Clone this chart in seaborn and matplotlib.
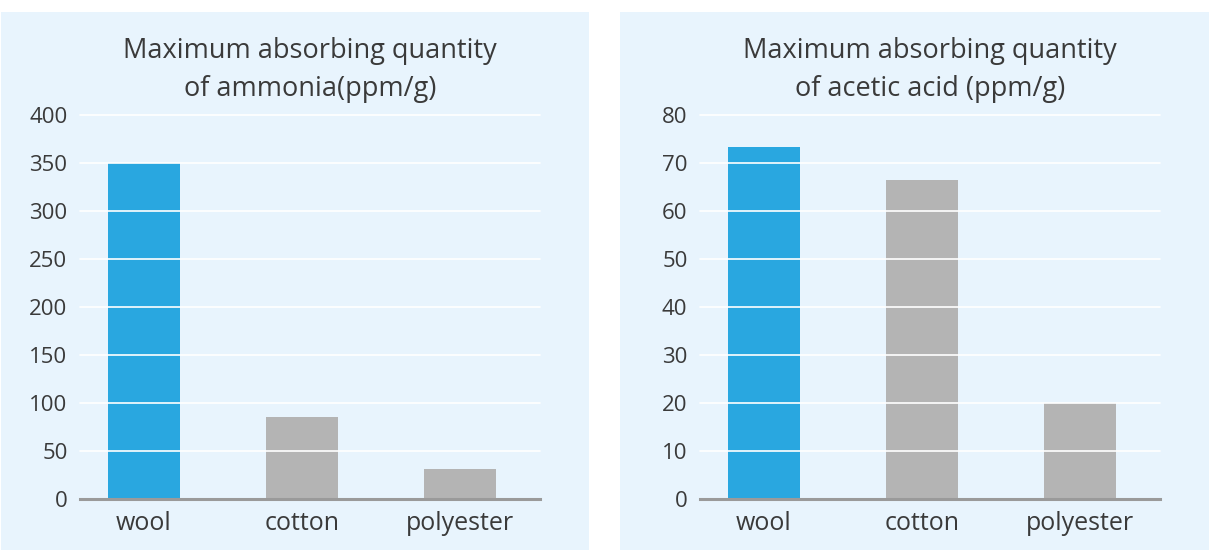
import matplotlib
matplotlib.use("Agg")
import matplotlib.pyplot as plt
from matplotlib.patches import Rectangle
import seaborn as sns
import pandas as pd

# data
fabrics = ["wool", "cotton", "polyester"]
ammonia = [350, 85, 31]
acetic_acid = [73.3, 66.5, 20]
ammonia_ticks = [0, 50, 100, 150, 200, 250, 300, 350, 400]
acetic_ticks = [0, 10, 20, 30, 40, 50, 60, 70, 80]
titles = ["Maximum absorbing quantity\nof ammonia(ppm/g)",
          "Maximum absorbing quantity\nof acetic acid (ppm/g)"]

BG = "#e8f4fd"
TXT = "#3a3a3a"
palette = {"wool": "#29a7e0", "cotton": "#b4b4b4", "polyester": "#b4b4b4"}

sns.set_style("white")
plt.rcParams["font.family"] = ["Open Sans", "DejaVu Sans"]

W, H = 1209, 560
fig = plt.figure(figsize=(W / 100, H / 100), dpi=100)

# light blue panels behind each chart
for x0, x1 in [(1, 589), (620, 1209)]:
    fig.patches.append(Rectangle((x0 / W, 10 / H), (x1 - x0) / W, 538 / H,
                                 transform=fig.transFigure, facecolor=BG,
                                 edgecolor="none", zorder=-5))

panels = [(80, ammonia, ammonia_ticks), (700, acetic_acid, acetic_ticks)]
for i, (left, vals, ticks) in enumerate(panels):
    ax = fig.add_axes([left / W, 61 / H, 460 / W, 384 / H])
    ax.set_facecolor("none")
    df = pd.DataFrame({"fabric": fabrics, "value": vals})
    sns.barplot(data=df, x="fabric", y="value", hue="fabric", palette=palette,
                width=0.456, saturation=1, linewidth=0, legend=False,
                ax=ax, zorder=1)
    ax.set_xlim(-0.405, 2.506)
    ax.set_ylim(0, ticks[-1])
    ax.set_yticks(ticks)
    ax.set_xlabel("")
    ax.set_ylabel("")
    for s in ["top", "right", "left"]:
        ax.spines[s].set_visible(False)
    ax.spines["bottom"].set_color("#9a9a9a")
    ax.spines["bottom"].set_linewidth(2.2)
    ax.spines["bottom"].set_zorder(4)
    # white grid lines drawn on top of the bars
    for t in ticks[1:]:
        ax.axhline(t, color="white", linewidth=1.2, zorder=3, clip_on=False)
    ax.tick_params(axis="both", length=0, labelcolor=TXT)
    ax.tick_params(axis="y", pad=9, labelsize=16)
    ax.tick_params(axis="x", pad=9, labelsize=18)
    ax.set_title(titles[i], fontsize=19.5, color=TXT, pad=14, linespacing=1.45)

fig.savefig("out.png", dpi=100, facecolor="white")
